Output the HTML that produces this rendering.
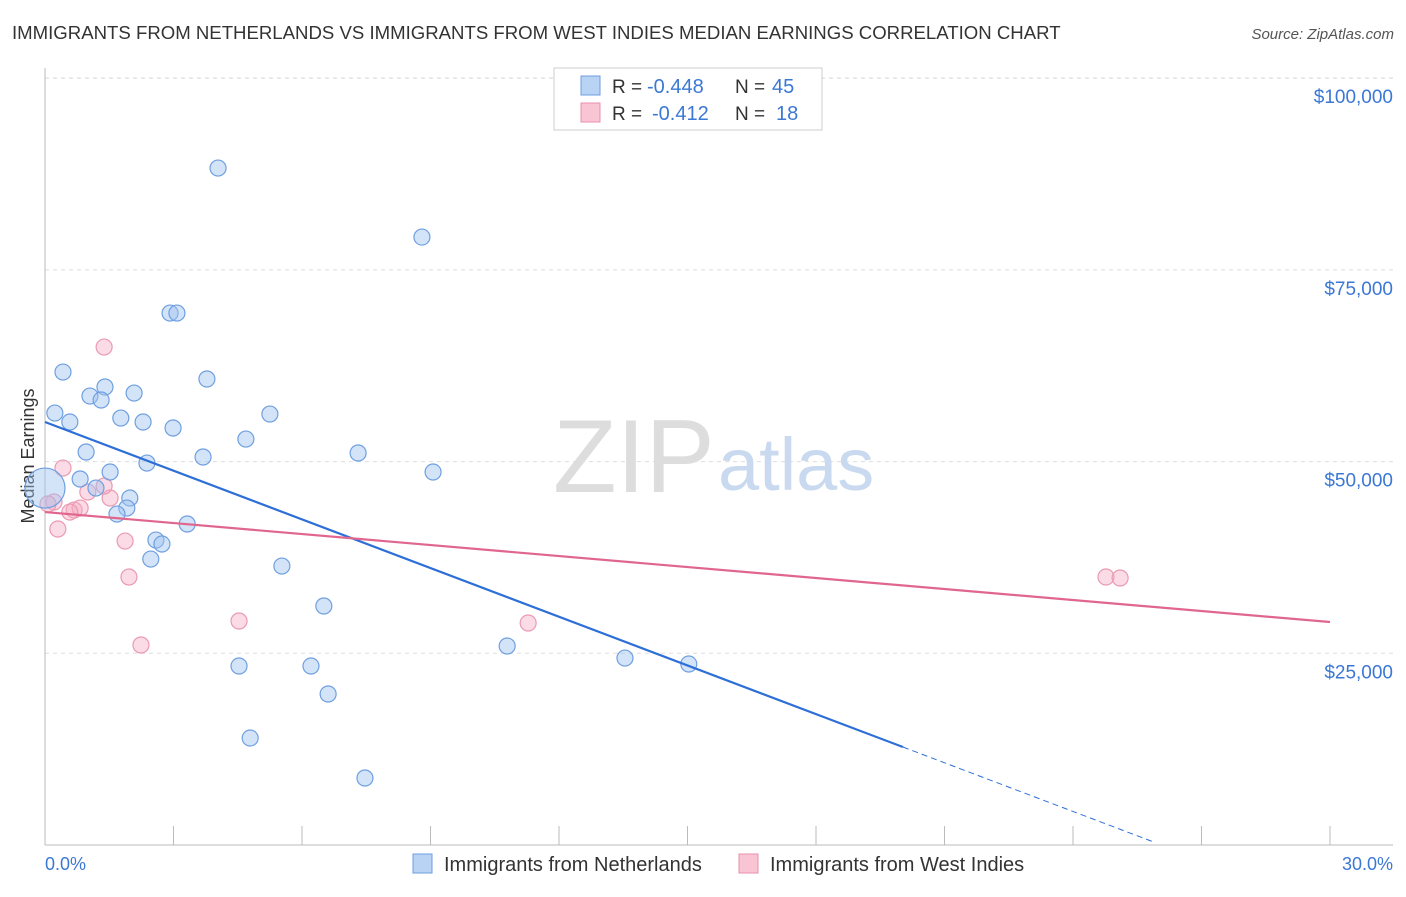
<!DOCTYPE html>
<html><head><meta charset="utf-8"><style>
body{margin:0;background:#fff;font-family:"Liberation Sans",sans-serif;}
svg text{font-family:"Liberation Sans",sans-serif;}
</style></head><body>
<svg id="chart" width="1406" height="892">
<text x="12" y="39" font-size="18.6" fill="#333">IMMIGRANTS FROM NETHERLANDS VS IMMIGRANTS FROM WEST INDIES MEDIAN EARNINGS CORRELATION CHART</text>
<text x="1394" y="39" font-size="15" fill="#555" font-style="italic" text-anchor="end">Source: ZipAtlas.com</text>
<g id="grid"></g>
<g>
<text x="553" y="492" font-size="104" fill="#ddd" font-family="Liberation Serif">ZIP</text>
<text x="718" y="490" font-size="74" fill="#c9d9ef">atlas</text>
</g>
<line x1="45" y1="68" x2="45" y2="845" stroke="#bbb"/>
<line x1="45" y1="845" x2="1393" y2="845" stroke="#bbb"/>
<g id="xticks"></g>
<text x="45" y="870" font-size="18" fill="#3b78d4">0.0%</text>
<text x="1393" y="870" font-size="18" fill="#3b78d4" text-anchor="end">30.0%</text>
<text transform="translate(34,456) rotate(-90)" font-size="18" fill="#333" text-anchor="middle">Median Earnings</text>
<g id="marks"></g>
<g>
<rect x="554" y="68" width="268" height="62" fill="#fff" stroke="#ccc"/>
<rect x="581" y="76" width="19" height="19" fill="#b9d3f5" stroke="#6d9de0"/>
<rect x="581" y="103" width="19" height="19" fill="#f9c5d5" stroke="#ea8fab"/>
<text x="612" y="93" font-size="19" fill="#333">R =</text>
<text x="647" y="93" font-size="20" fill="#3b78d4">-0.448</text>
<text x="735" y="93" font-size="19" fill="#333">N =</text>
<text x="772" y="93" font-size="20" fill="#3b78d4">45</text>
<text x="612" y="120" font-size="19" fill="#333">R =</text>
<text x="652" y="120" font-size="20" fill="#3b78d4">-0.412</text>
<text x="735" y="120" font-size="19" fill="#333">N =</text>
<text x="776" y="120" font-size="20" fill="#3b78d4">18</text>
</g>
<g>
<rect x="413" y="854" width="19" height="19" fill="#b9d3f5" stroke="#6d9de0"/>
<text x="444" y="871" font-size="20" fill="#333">Immigrants from Netherlands</text>
<rect x="739" y="854" width="19" height="19" fill="#f9c5d5" stroke="#ea8fab"/>
<text x="770" y="871" font-size="20" fill="#333">Immigrants from West Indies</text>
</g>
</svg>
<script>
const yTicks=[25000,50000,75000,100000];
const yTickLabels=["$25,000","$50,000","$75,000","$100,000"];
const blueX=[4.04,8.80,2.92,3.08,0.42,3.78,1.40,2.08,1.05,1.31,5.25,1.77,0.23,0.58,2.29,2.99,4.69,7.31,0.96,3.69,2.38,9.06,1.52,0.82,1.19,1.98,1.91,1.68,3.32,2.59,2.73,2.47,5.53,6.51,10.79,13.54,4.53,6.21,15.03,6.61,4.79,7.47,0.0];
const blueY=[88280,79280,69370,69370,61680,60770,59730,58940,58550,58030,56200,55680,56330,55160,55160,54380,52940,51120,51250,50600,49810,48640,48640,47730,46550,45250,43940,43160,41860,39770,39250,37290,36380,31170,25950,24380,23340,23340,23600,19690,13950,8740,46550];
const blueR=[8,8,8,8,8,8,8,8,8,8,8,8,8,8,8,8,8,8,8,8,8,8,8,8,8,8,8,8,8,8,8,8,8,8,8,8,8,8,8,8,8,8,20];
const pinkX=[1.38,0.42,0.21,0.07,1.00,0.68,0.82,0.58,1.52,1.38,0.30,1.87,1.96,4.53,2.24,11.28,24.77,25.10];
const pinkY=[64940,49160,44730,44470,46030,43680,43940,43420,45250,46810,41210,39640,34950,29210,26080,28950,34950,34820];
const blueTrend=[55160,-2116,20.03,25.91];
const pinkTrend=[43420,29080];
const X0=45,X1=1330,Y0=845,PX_PER=191.7/25000;
const sx=v=>X0+(v/30)*(X1-X0);
const sy=v=>Y0-v*PX_PER;
const NS="http://www.w3.org/2000/svg";
function mk(t,a,p){const e=document.createElementNS(NS,t);for(const k in a)e.setAttribute(k,a[k]);p.appendChild(e);return e;}
const grid=document.getElementById('grid');
yTicks.forEach((t,i)=>{
 const l=mk('line',{x1:45,x2:1393,y1:sy(t),y2:sy(t),stroke:'#ddd','stroke-dasharray':'4,4'},grid);
 
 
 const tx=mk('text',{x:1393,y:sy(t)+25,'font-size':19,fill:'#3b78d4','text-anchor':'end'},grid);
 tx.textContent=yTickLabels[i];
 
 
});
const tl=mk('line',{x1:45,x2:1393,y1:78,y2:78,stroke:'#ddd','stroke-dasharray':'4,4'},grid);


const xt=document.getElementById('xticks');
for(let i=1;i<=10;i++){const l=mk('line',{x1:sx(i*3),x2:sx(i*3),y1:826,y2:845,stroke:'#bbb'},xt);
 
 }
const m=document.getElementById('marks');
pinkX.forEach((x,i)=>{const c=mk('circle',{cx:sx(x),cy:sy(pinkY[i]),r:8,fill:'rgba(246,176,198,0.45)',stroke:'#ea9ab2','stroke-width':1.2},m);
 
 });
blueX.forEach((x,i)=>{const c=mk('circle',{cx:sx(x),cy:sy(blueY[i]),r:blueR[i],fill:'rgba(160,196,240,0.45)',stroke:'#6f9fe0','stroke-width':1.2},m);
 
 });
const bt=v=>blueTrend[0]+blueTrend[1]*v;
const b1=mk('line',{x1:sx(0),y1:sy(bt(0)),x2:sx(blueTrend[2]),y2:sy(bt(blueTrend[2])),stroke:'#2d6fd6','stroke-width':2.2},m);


const b2=mk('line',{x1:sx(blueTrend[2]),y1:sy(bt(blueTrend[2])),x2:sx(blueTrend[3]),y2:sy(bt(blueTrend[3])),stroke:'#2d6fd6','stroke-width':1,'stroke-dasharray':'6,4'},m);


const p1=mk('line',{x1:sx(0),y1:sy(pinkTrend[0]),x2:sx(30),y2:sy(pinkTrend[1]),stroke:'#e0668e','stroke-width':2.2},m);


</script>
</body></html>
